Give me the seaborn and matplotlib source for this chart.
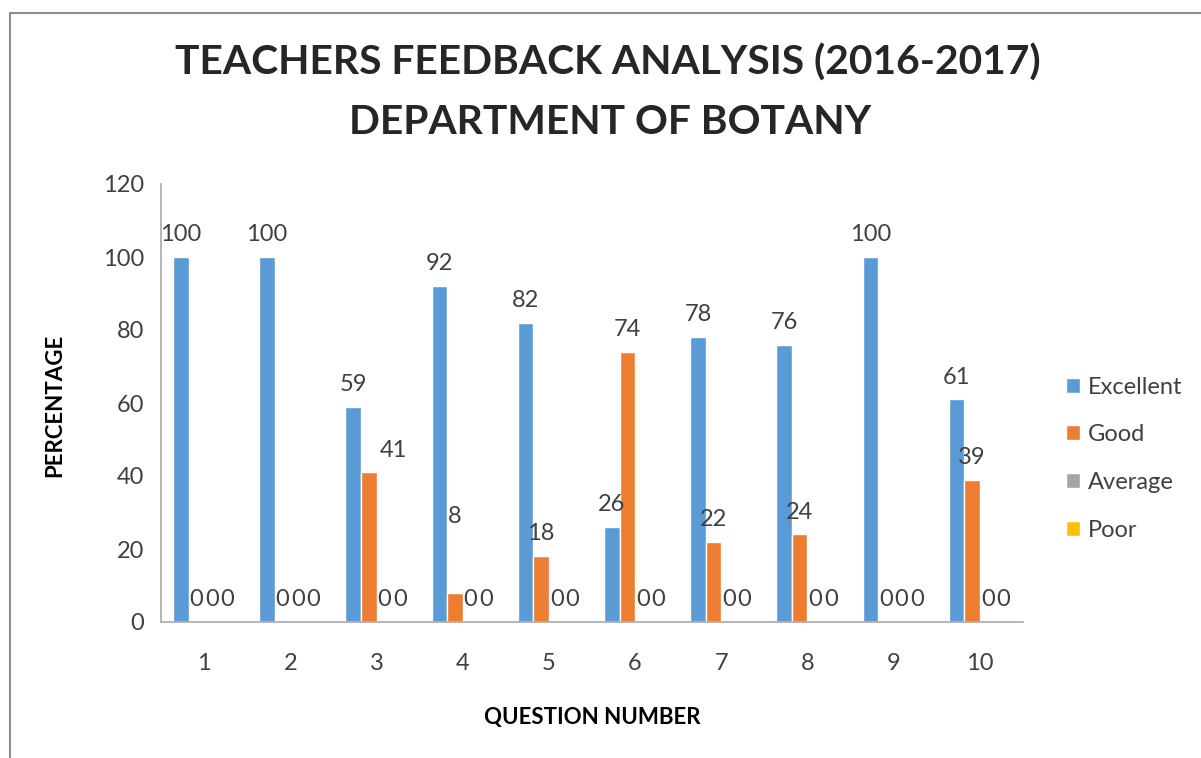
import pandas as pd
import seaborn as sns
import matplotlib.pyplot as plt
from matplotlib.lines import Line2D

questions = ['1', '2', '3', '4', '5', '6', '7', '8', '9', '10']
excellent = [100, 100, 59, 92, 82, 26, 78, 76, 100, 61]
good = [0, 0, 41, 8, 18, 74, 22, 24, 0, 39]
average = [0, 0, 0, 0, 0, 0, 0, 0, 0, 0]
poor = [0, 0, 0, 0, 0, 0, 0, 0, 0, 0]
ratings = ['Excellent', 'Good', 'Average', 'Poor']
colors = ['#5B9BD5', '#ED7D31', '#A5A5A5', '#FFC000']

df = pd.DataFrame({
    'question': questions * 4,
    'pct': excellent + good + average + poor,
    'rating': [r for r in ratings for _ in questions],
})

sns.set_style('white')
plt.rcParams['font.family'] = ['Lato', 'DejaVu Sans']

fig = plt.figure(figsize=(12.01, 7.58), dpi=100)
ax = fig.add_axes([161 / 1201, 1 - 622 / 758, 862 / 1201, 438 / 758])

sns.barplot(data=df, x='question', y='pct', hue='rating', order=questions,
            hue_order=ratings, palette=colors, width=0.72, saturation=1,
            errorbar=None, ax=ax)

ax.set_ylim(0, 120)
ax.set_yticks(range(0, 121, 20))
ax.tick_params(axis='y', length=0, pad=12, labelsize=17, labelcolor='#404040')
ax.tick_params(axis='x', length=0, pad=22, labelsize=17, labelcolor='#404040')

for side in ['top', 'right']:
    ax.spines[side].set_visible(False)
for side in ['left', 'bottom']:
    ax.spines[side].set_color('#B0B0B0')
    ax.spines[side].set_linewidth(1.3)

# value labels
for i, cont in enumerate(ax.containers):
    labels = ax.bar_label(cont, padding=8.5, fontsize=17, color='#404040')
    if i == 1:
        # two labels of the Good series were moved in the original
        labels[2].xyann = (18, 8.5)
        labels[3].xyann = (0, 47.5)

ax.set_xlabel('QUESTION NUMBER', fontsize=16, fontweight='bold', color='black')
ax.xaxis.set_label_coords(0.5, -0.219)
ax.xaxis.label.set_va('center')
ax.set_ylabel('PERCENTAGE', fontsize=16, fontweight='bold', color='black')
ax.yaxis.set_label_coords(-0.123, 0.495)
ax.yaxis.label.set_va('center')

handles, labs = ax.get_legend_handles_labels()
ax.get_legend().remove()
fig.legend(handles, labs, loc='center left', bbox_to_anchor=(1066 / 1201, 0.395),
           frameon=False, fontsize=17, handlelength=0.6, handleheight=0.6,
           handletextpad=0.34, labelspacing=1.13, borderpad=0, borderaxespad=0,
           labelcolor='#404040')

fig.text(0.506, 0.917, 'TEACHERS FEEDBACK ANALYSIS (2016-2017)', ha='center', va='center',
         fontsize=29.3, fontweight='bold')
fig.text(0.508, 0.838, 'DEPARTMENT OF BOTANY', ha='center', va='center',
         fontsize=29.3, fontweight='bold')

# chart frame (top and left edges visible)
x0, y0 = 9.5 / 1201, 1 - 12.5 / 758
fig.add_artist(Line2D([x0, 1], [y0, y0], color='#8C8C8C', lw=1.5))
fig.add_artist(Line2D([x0, x0], [0, y0], color='#8C8C8C', lw=1.5))

fig.savefig('out.png', dpi=100)
